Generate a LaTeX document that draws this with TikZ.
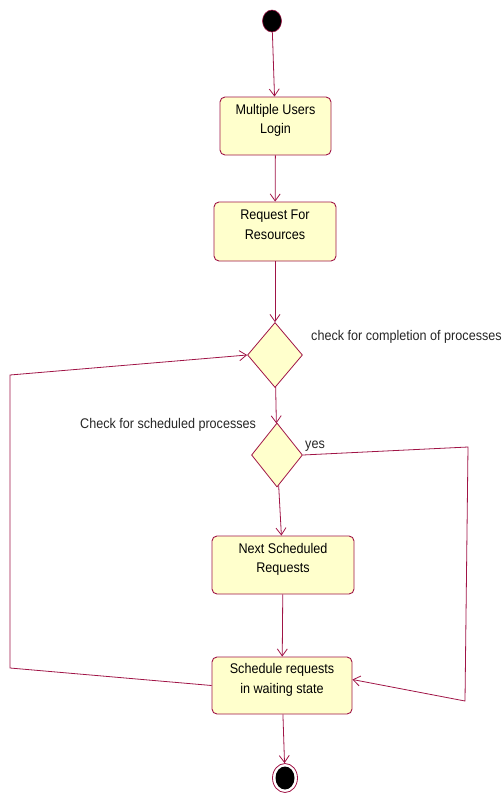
\documentclass[tikz,border=0pt]{standalone}
\usepackage{fontspec}
\setmainfont[FakeStretch=0.9]{Liberation Sans}
\usetikzlibrary{shapes.geometric,arrows.meta}
\definecolor{edge}{RGB}{160,20,70}
\definecolor{boxfill}{RGB}{255,255,204}
\newcommand\twolines[2]{\raisebox{6pt}[\height][\depth]{\begin{tabular}{@{}c@{}}#1\\#2\end{tabular}}}
\begin{document}
\begin{tikzpicture}[x=1pt,y=-1pt,
  every node/.style={font=\fontsize{14}{19.5}\selectfont},
  activity/.style={draw=edge,fill=boxfill,rounded corners=5pt,line width=0.9pt,align=center,inner sep=0pt},
  decision/.style={draw=edge,fill=boxfill,diamond,inner sep=0pt,line width=0.8pt},
  startdot/.style={ellipse,fill=black,draw=edge,line width=0.6pt,minimum width=19pt,minimum height=22pt,inner sep=0pt},
  endouter/.style={ellipse,draw=edge,fill=white,line width=0.8pt,minimum width=25pt,minimum height=29pt,inner sep=0pt},
  enddot/.style={ellipse,fill=black,minimum width=19pt,minimum height=23pt,inner sep=0pt},
  flow/.style={draw=edge,line width=0.8pt,-{Straight Barb[length=7pt,width=10pt,line width=0.8pt]}},
  lbl/.style={inner sep=0pt,text=black!85}]
\useasboundingbox (0,0) rectangle (501,793);

\node[startdot] (start) at (272,21) {};
\node[activity,minimum width=111pt,minimum height=58pt] (b1) at (275.5,126) {\twolines{Multiple Users}{Login}};
\node[activity,minimum width=122pt,minimum height=59pt] (b2) at (275,231.5) {\twolines{Request For}{Resources}};
\node[decision,minimum width=55pt,minimum height=65pt] (d1) at (275,355) {};
\node[decision,minimum width=51pt,minimum height=64pt] (d2) at (277,455) {};
\node[activity,minimum width=142pt,minimum height=58pt] (b3) at (283,565) {\twolines{Next Scheduled}{Requests}};
\node[activity,minimum width=140pt,minimum height=57pt] (b4) at (282,685.5) {\twolines{Schedule requests}{in waiting state}};
\node[endouter] (end) at (285,778) {};
\node[enddot] (endin) at (end) {};

\node[lbl,anchor=west] (l1) at (311,337) {check for completion of processes};
\node[lbl,anchor=west] (l2) at (80,425) {Check for scheduled processes};
\node[lbl,anchor=west] (l3) at (305,446) {yes};

\coordinate (L1) at (10,668);
\coordinate (L2) at (10,375);
\coordinate (R1) at (468,447);
\coordinate (R2) at (465,701);

\draw[flow] (start) -- (b1);
\draw[flow] (b1) -- (b2);
\draw[flow] (b2) -- (d1);
\draw[flow] (d1) -- (d2);
\draw[flow] (d2) -- (b3);
\draw[flow] (b3) -- (b4);
\draw[flow] (b4) -- (end);
\draw[flow] (b4.west) -- (L1) -- (L2) -- (d1.west);
\draw[flow] (d2.east) -- (R1) -- (R2) -- ([yshift=6pt]b4.east);
\end{tikzpicture}
\end{document}
